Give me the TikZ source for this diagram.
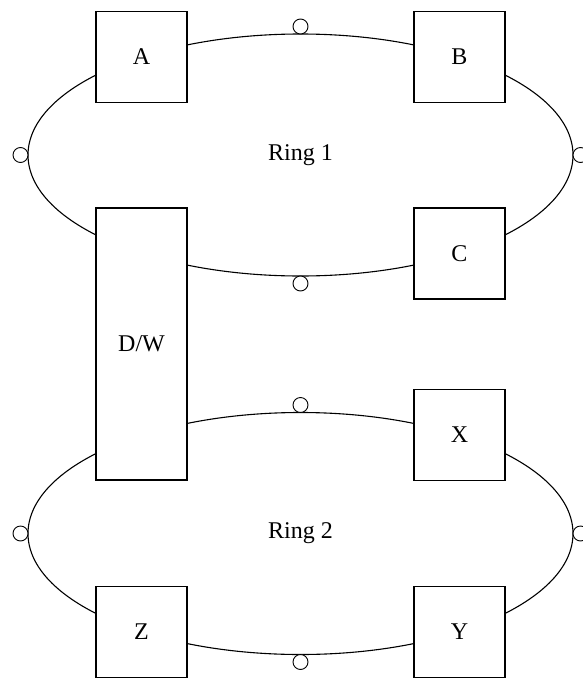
\documentclass[tikz,border=0pt]{standalone}
\usepackage{fontspec}
\setmainfont{Liberation Serif}

\begin{document}
\begin{tikzpicture}[x=1pt,y=-1pt,
    label text/.style={font=\fontsize{24}{28}\selectfont},
    station/.style={draw,fill=white,line width=1.1pt,minimum width=91pt,minimum height=91pt,inner sep=0pt,label text},
    tap/.style={draw,fill=white,circle,line width=0.9pt,minimum size=15pt,inner sep=0pt}]
  \useasboundingbox (0,0) rectangle (582,678);
  \foreach \n / \y in {1/155,2/533.5} {
    \draw[line width=1.1pt] (300.5,\y) ellipse [x radius=272.5pt, y radius=121pt];
    \node[label text] (ring\n) at (300.5,\y) {Ring \n};
    \foreach \tx / \ty / \side in {300.5/-128.5/n,300.5/128.5/s,20.5/0/w,580.5/0/e}
      \node[tap] (tap\n\side) at (\tx,{\y+\ty}) {};
  };
  \node[station] (A) at (141.5,57) {A};
  \node[station] (B) at (459.5,57) {B};
  \node[station] (C) at (459.5,253.5) {C};
  \node[station,minimum height=272pt] (DW) at (141.5,344) {D/W};
  \node[station] (X) at (459.5,435) {X};
  \node[station] (Z) at (141.5,632) {Z};
  \node[station] (Y) at (459.5,632) {Y};
\end{tikzpicture}
\end{document}
